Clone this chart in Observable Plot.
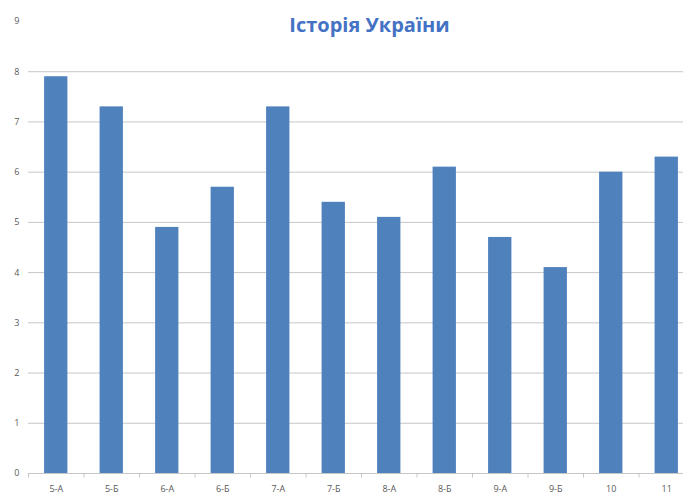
<!DOCTYPE html>
<html><head><meta charset="utf-8">
<script src="https://cdn.jsdelivr.net/npm/d3@7"></script>
<script src="https://cdn.jsdelivr.net/npm/@observablehq/plot@0.6"></script>
<style>body{margin:0;background:#fff;overflow:hidden;} svg{display:block;}</style>
</head><body><div id="chart"></div>
<script>
const title = "Історія України";
const classes = ["5-А","5-Б","6-А","6-Б","7-А","7-Б","8-А","8-Б","9-А","9-Б","10","11"];
const scores = [7.9,7.3,4.9,5.7,7.3,5.4,5.1,6.1,4.7,4.1,6.0,6.3];
const yTicks = [0,1,2,3,4,5,6,7,8,9];
const gridValues = [0,1,2,3,4,5,6,7,8];

const data = classes.map((c,i)=>({cls:c, v:scores[i]}));
const W = 683, H = 495, mL = 28, mR = -11;
const step = (W - mL - mR) / classes.length;

const chart = Plot.plot({
  width: W, height: H,
  marginLeft: mL, marginRight: mR, marginTop: 21, marginBottom: 22,
  style: {fontFamily: "'Open Sans', 'Liberation Sans', sans-serif", fontSize: "9px", color: "#595959", background: "#fff", overflow: "hidden"},
  x: {domain: classes, paddingInner: 0.58, paddingOuter: 0.29, round: false, label: null, tickSize: 0, tickPadding: 12},
  y: {domain: [0, 9], label: null, ticks: yTicks, tickSize: 0, tickPadding: 9},
  marks: [
    Plot.ruleY(gridValues, {stroke: "#c6c6c6", strokeWidth: 1}),
    Plot.ruleX([0], {frameAnchor: "left", y1: 0, y2: 8.15, stroke: "#c6c6c6"}),
    Plot.ruleX(classes, {x: d => d, dx: step/2, y1: 0, y2: -0.09, stroke: "#c6c6c6"}),
    Plot.ruleX([classes[0]], {x: d => d, dx: -step/2, y1: 0, y2: -0.09, stroke: "#c6c6c6"}),
    Plot.barY(data, {x: "cls", y: "v", fill: "#4F81BD"}),
    Plot.text([title], {frameAnchor: "top", dx: 8, dy: 4, lineAnchor: "middle", text: d => d,
      fill: "#4472C4", fontSize: 20, fontWeight: "bold"})
  ]
});
document.getElementById("chart").append(chart);
</script>
</body></html>
